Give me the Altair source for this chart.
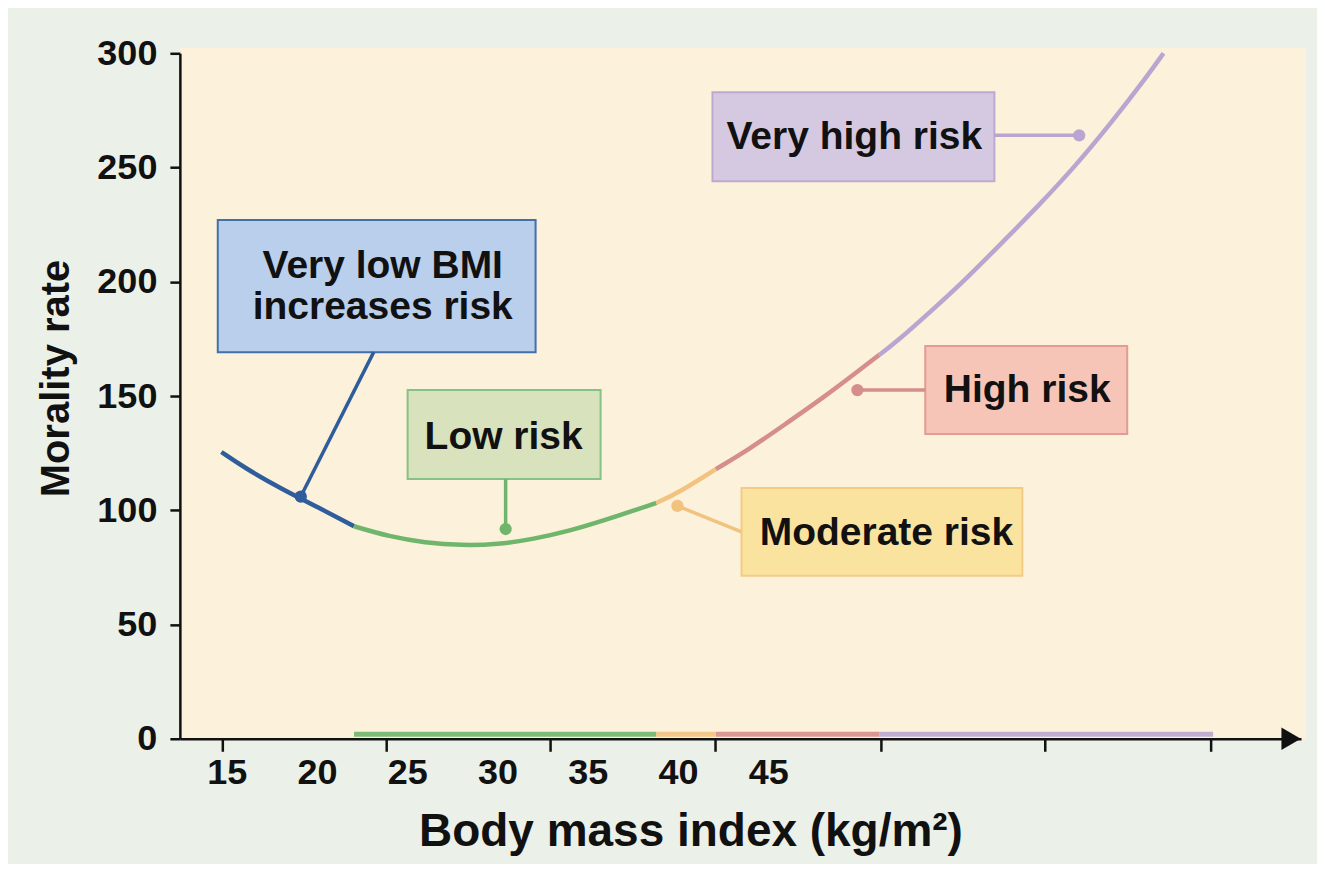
import altair as alt
import pandas as pd

# ---------------- data ----------------
bmi = [14.7, 16, 18, 20, 22.05, 24, 26, 28, 30, 32, 34, 36, 38.8, 40, 42.1,
       44, 46, 48, 50, 51.15, 52, 54, 56, 58, 60, 62, 64, 66, 66.9]
mortality = [125.5, 118.5, 109.5, 101.5, 93, 88.5, 85.8, 84.6, 85.0, 87.4, 91.0,
             95.8, 103.2, 107.5, 118, 127, 138, 149, 161, 168, 173, 187,
             201.5, 217.5, 233.5, 250.5, 269.5, 290, 300]

segment_names = ["Very low", "Low", "Moderate", "High", "Very high"]
segment_lo = [14.7, 22.05, 38.8, 42.1, 51.15]
segment_hi = [22.05, 38.8, 42.1, 51.15, 69.65]
segment_colors = ["#2F5D9B", "#6FB66C", "#F2C27F", "#D58D8D", "#B9A6D0"]

x_label_values = [15, 20, 25, 30, 35, 40, 45]
x_tick_positions = [14.78, 23.86, 32.94, 42.08, 51.27, 60.35, 69.54]
y_tick_values = [0, 50, 100, 150, 200, 250, 300]

ann_text = ["Very low BMI\nincreases risk", "Low risk", "Moderate risk",
            "High risk", "Very high risk"]
box_x1 = [14.50, 25.02, 43.52, 53.70, 41.91]
box_x2 = [32.11, 35.71, 59.08, 64.89, 57.53]
box_y1 = [169.2, 113.7, 71.3, 133.4, 244.0]
box_y2 = [227.0, 152.6, 109.8, 171.9, 282.9]
text_x = [23.64, 30.34, 51.55, 59.35, 49.77]
text_y = [206.8, 132.1, 90.1, 152.6, 263.3]
dot_x = [19.10, 30.45, 39.97, 49.94, 62.23]
dot_y = [106.0, 91.8, 101.9, 152.6, 264.1]
leader_x = [23.14, 30.45, 43.52, 53.70, 57.53]
leader_y = [169.2, 113.7, 90.5, 152.6, 264.1]
box_fill = ["#B9CFEB", "#D8E2BC", "#FAE29F", "#F6C5B8", "#D5C8E1"]
box_stroke = ["#4470AA", "#86C286", "#F4CB85", "#E29C95", "#BDA9D2"]

arrow_x = [73.97]
arrow_y = [0]

# ---------------- tables ----------------
rows = []
for name, lo, hi in zip(segment_names, segment_lo, segment_hi):
    for xv, yv in zip(bmi, mortality):
        if lo <= xv <= hi:
            rows.append({"x": xv, "y": yv, "seg": name})
curve_df = pd.DataFrame(rows)

bar_df = pd.DataFrame({"x": segment_lo[1:], "x2": segment_hi[1:],
                       "seg": segment_names[1:], "y": [2.0] * 4})

ann_df = pd.DataFrame({
    "text": ann_text, "bx1": box_x1, "bx2": box_x2, "by1": box_y1, "by2": box_y2,
    "tx": text_x, "ty": text_y, "dx": dot_x, "dy": dot_y,
    "lx": leader_x, "ly": leader_y, "fill": box_fill, "stroke": box_stroke,
    "col": segment_colors,
})
tick_df = pd.DataFrame({"x": x_tick_positions})
arrow_df = pd.DataFrame({"x": arrow_x, "y": arrow_y})

FONT = "Liberation Sans"
W, H = 1122, 686
xs = alt.Scale(domain=[12.40, 74.52], nice=False, zero=False)
ys = alt.Scale(domain=[0, 300], nice=False, zero=False)

x_axis = alt.Axis(values=x_label_values, ticks=False, grid=False, labelFlush=False,
                  labelOverlap=False, labelFontSize=36, labelFontWeight="bold",
                  labelFont=FONT, labelColor="#111111", labelPadding=17,
                  domainColor="#111111", domainWidth=2.5, zindex=1,
                  title="Body mass index (kg/m²)", titleFont=FONT, titleFontSize=46,
                  titleFontWeight="bold", titleColor="#111111", titleX=511, titleY=107,
                  titleBaseline="alphabetic", titleAlign="center")
y_axis = alt.Axis(values=y_tick_values, grid=False, tickSize=10, tickWidth=2.5,
                  tickColor="#111111", labelFontSize=36, labelFontWeight="bold",
                  labelFont=FONT, labelColor="#111111", labelPadding=13,
                  domainColor="#111111", domainWidth=2.5, zindex=1,
                  title="Morality rate", titleFont=FONT, titleFontSize=40,
                  titleFontWeight="bold", titleColor="#111111", titleX=-111, titleY=325,
                  titleAngle=270, titleBaseline="alphabetic", titleAlign="center")


def X(f):
    return alt.X(f, type="quantitative", scale=xs, axis=x_axis)


def Y(f):
    return alt.Y(f, type="quantitative", scale=ys, axis=y_axis)


seg_color = alt.Color("seg:N", scale=alt.Scale(domain=segment_names, range=segment_colors),
                      legend=None)

bg = alt.Chart(tick_df).mark_rect(color="#FCF1DA").encode(
    x=alt.value(0), x2=alt.value(W + 5), y=alt.value(-5), y2=alt.value(H))

boxes = alt.Chart(ann_df).mark_rect(strokeWidth=2).encode(
    x=X("bx1"), x2="bx2", y=Y("by1"), y2="by2",
    fill=alt.Fill("fill:N", scale=None), stroke=alt.Stroke("stroke:N", scale=None))

leaders = alt.Chart(ann_df).mark_rule(strokeWidth=3.5).encode(
    x=X("lx"), y=Y("ly"), x2="dx", y2="dy", color=alt.Color("col:N", scale=None))

bar = alt.Chart(bar_df).mark_rule(strokeWidth=5, opacity=0.9).encode(
    x=X("x"), x2="x2", y=Y("y"), color=seg_color)

curve = alt.Chart(curve_df).mark_line(strokeWidth=4.5, interpolate="basis").encode(
    x=X("x"), y=Y("y"), color=seg_color, detail="seg:N", order="x:Q")

dots = alt.Chart(ann_df).mark_circle(size=150, opacity=1).encode(
    x=X("dx"), y=Y("dy"), color=alt.Color("col:N", scale=None))

texts = alt.Chart(ann_df).mark_text(font=FONT, fontSize=39, fontWeight="bold",
                                    color="#111111", lineBreak="\n", lineHeight=41,
                                    align="center", baseline="middle").encode(
    x=X("tx"), y=Y("ty"), text="text:N")

ticks = alt.Chart(tick_df).mark_rule(strokeWidth=2.5, color="#111111").encode(
    x=X("x"), y=alt.value(H), y2=alt.value(H + 13))

arrow = alt.Chart(arrow_df).mark_point(shape="triangle-right", filled=True, size=500,
                                       color="#111111", opacity=1).encode(
    x=X("x"), y=Y("y"))

chart = alt.layer(bg, boxes, leaders, bar, curve, dots, texts, ticks, arrow).properties(
    width=W, height=H,
    autosize=alt.AutoSizeParams(type="none"),
    padding={"left": 172, "top": 45, "right": 16, "bottom": 125},
    background="#EBF0E8",
).configure_view(stroke=None)

chart.save("out.html", embed_options={"renderer": "svg", "actions": False})
